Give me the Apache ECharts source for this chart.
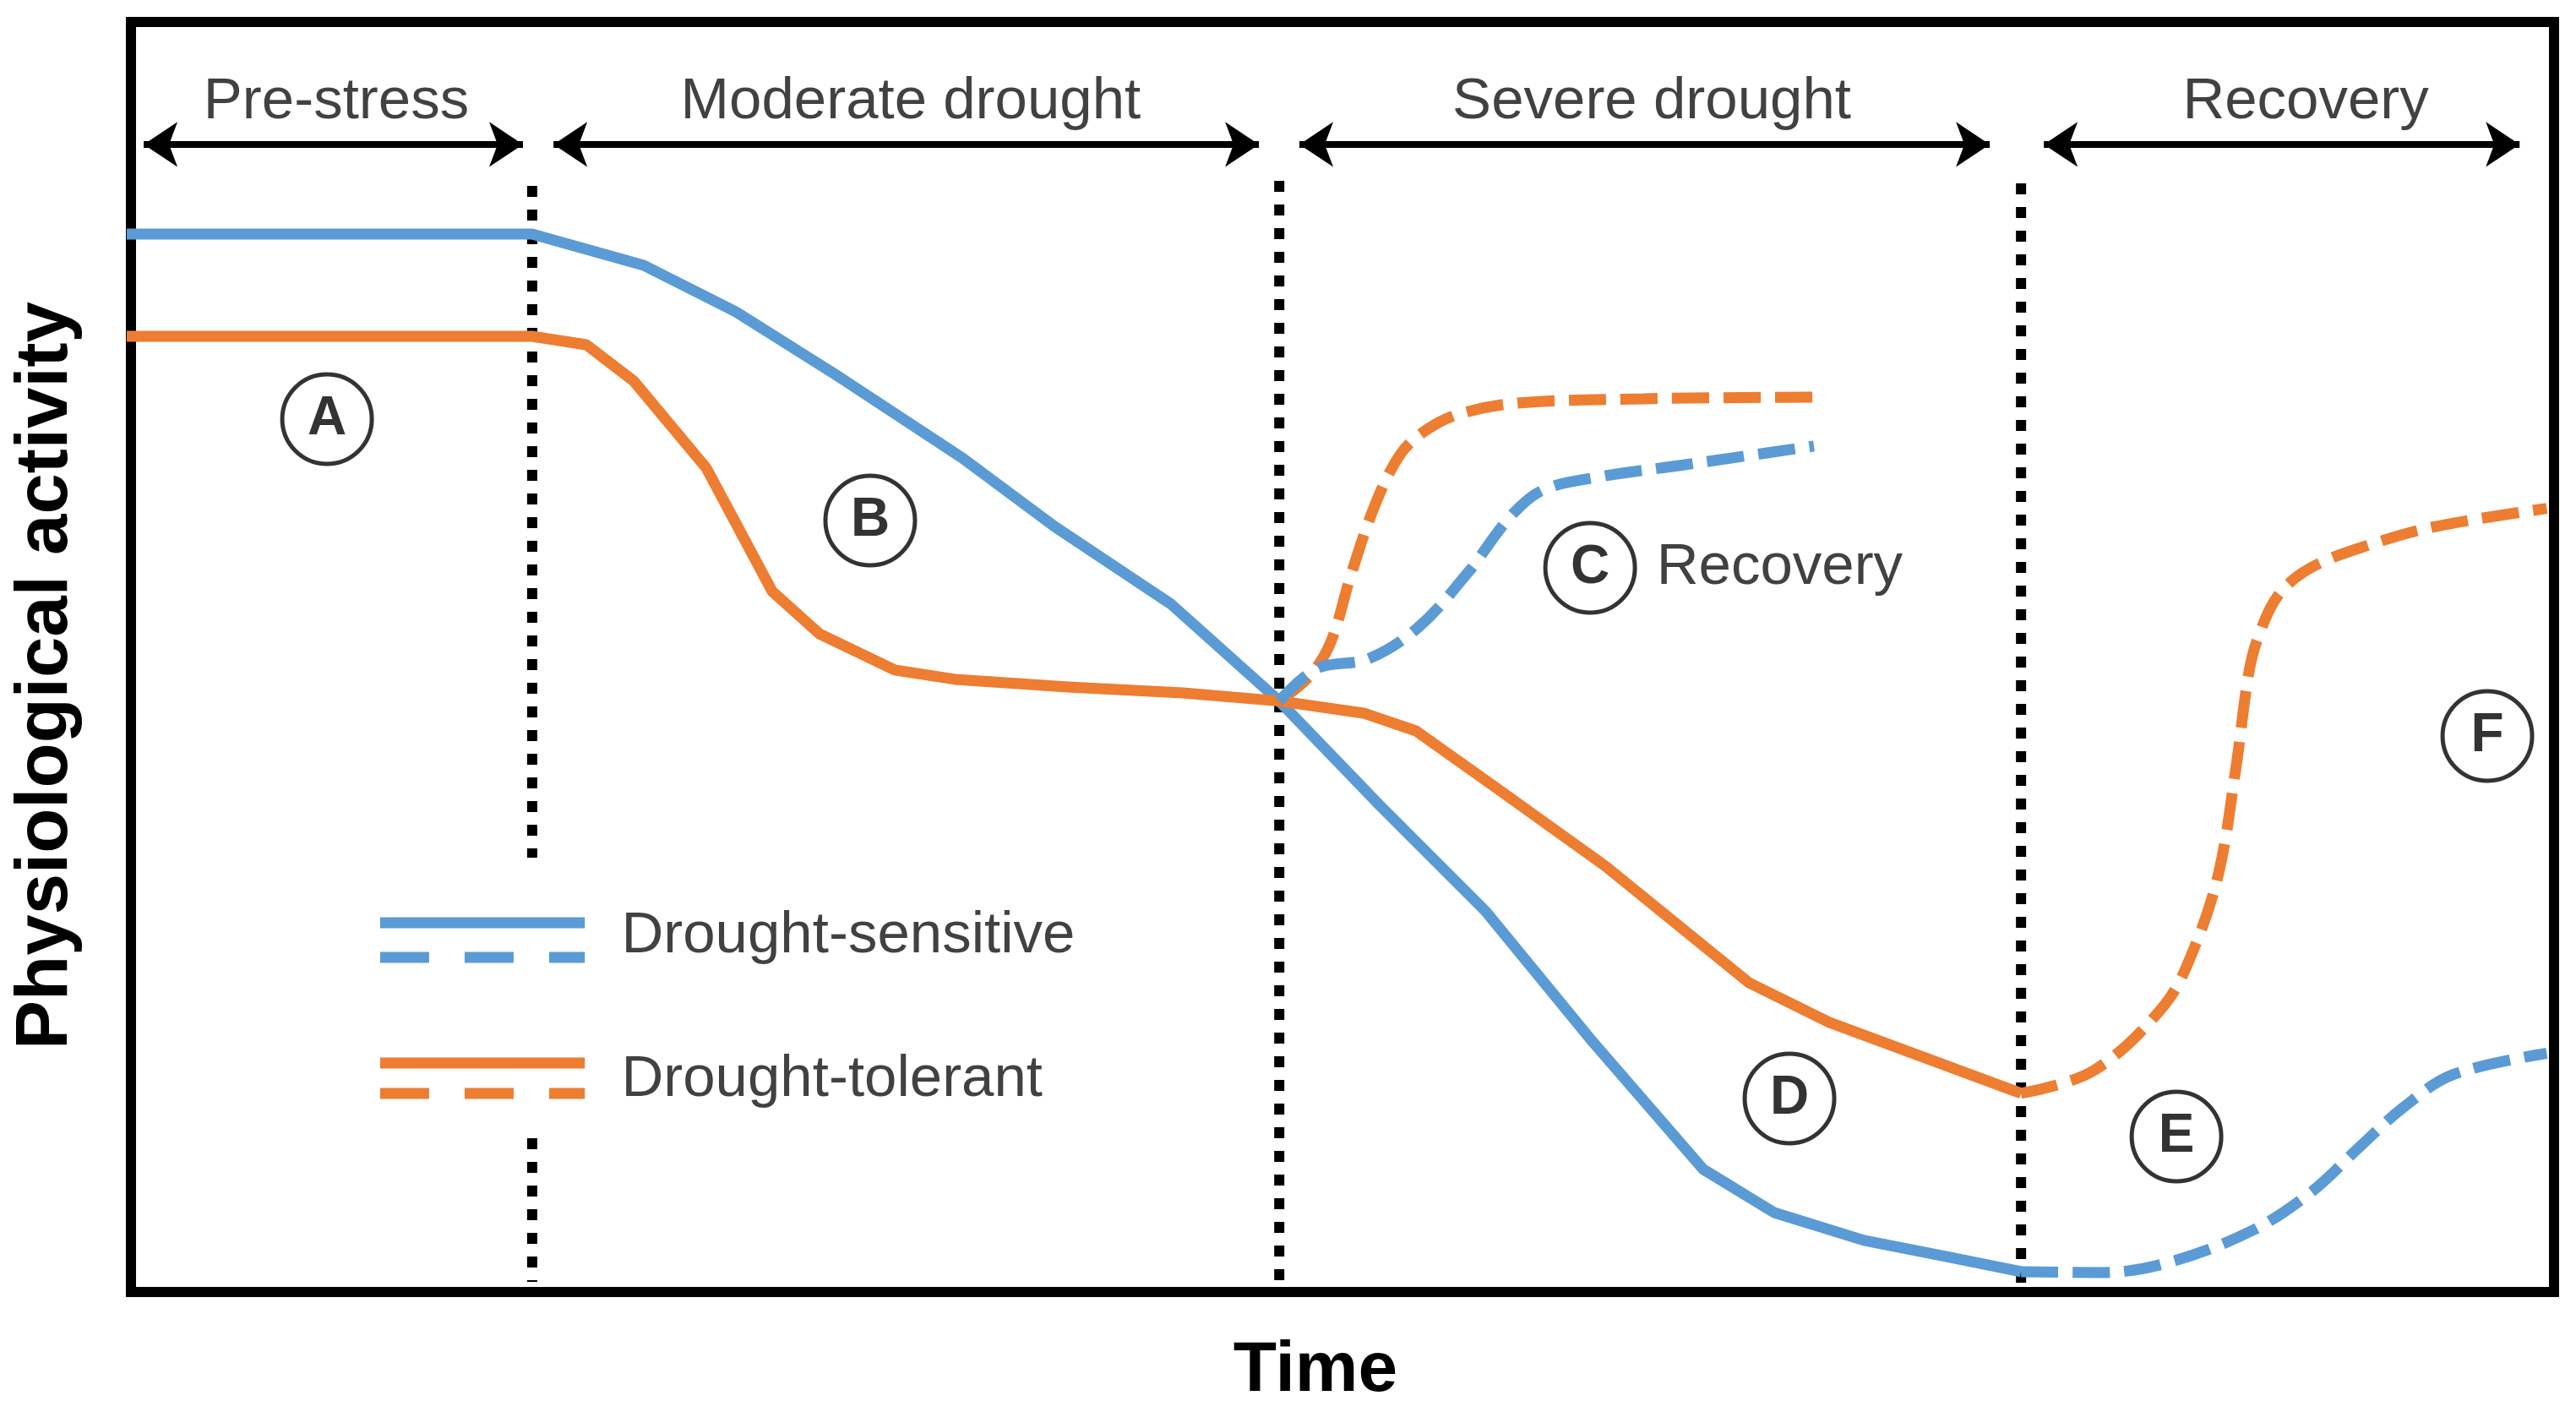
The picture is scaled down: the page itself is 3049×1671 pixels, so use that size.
<!DOCTYPE html>
<html><head><meta charset="utf-8">
<script src="https://cdn.jsdelivr.net/npm/echarts@6/dist/echarts.min.js"></script>
<style>html,body{margin:0;padding:0;background:#fff}#c{width:3049px;height:1671px}</style>
</head><body><div id="c"></div>
<script>
// ---- data (time units 0..100, activity units 0..100) ----
const sensitiveSolid = [[0,83.12],[16.72,83.12],[21.32,80.66],[25.12,77.01],[29.27,72.03],[34.46,65.51],[38.26,60.13],[43.07,54.02],[47.53,46.4],[51.67,38.21],[56.06,29.83],[60.49,19.53],[65.02,9.57],[67.94,6.18],[71.64,3.99],[75.05,2.72],[78.12,1.53]];
const tolerantSolid = [[0,75.08],[16.72,75.08],[18.95,74.42],[20.91,71.56],[23.90,64.72],[26.62,55.02],[28.57,51.69],[31.67,48.84],[34.15,48.11],[38.82,47.51],[43.55,47.04],[47.53,46.4],[51.01,45.45],[53.17,44.05],[56.41,39.67],[60.98,33.42],[66.90,24.25],[70.21,21.13],[78.12,15.55]];
const tolerantRecoverC = [[47.53,46.4],[48.78,48.37],[49.65,51.03],[50.49,56.35],[51.50,61.93],[52.54,65.85],[53.59,67.71],[54.95,68.97],[57.35,69.83],[62.54,70.17],[69.58,70.30]];
const sensitiveRecoverC = [[47.53,46.4],[49.09,48.97],[51.18,49.70],[53.24,52.16],[55.30,56.48],[57.04,60.86],[58.40,62.99],[60.80,64.05],[64.25,64.98],[69.58,66.45]];
const tolerantRecoverF = [[78.12,15.55],[81.11,17.34],[84.04,22.52],[85.26,26.98],[86.27,32.89],[86.97,41.00],[87.49,48.37],[87.84,51.10],[88.71,54.68],[90.07,56.88],[92.47,58.67],[95.23,60.13],[99.8,61.55]];
const sensitiveRecoverF = [[78.12,1.53],[81.46,1.46],[84.22,2.26],[87.67,4.78],[90.07,7.77],[92.13,11.43],[93.87,14.42],[95.92,17.01],[99.8,18.70]];

const phaseNames = ['Pre-stress','Moderate drought','Severe drought','Recovery'];
const phaseCenters = [8.64, 32.33, 62.89, 89.86];
const phaseTextY = 93.49;
const phaseArrows = [[0.70,16.34],[17.60,46.69],[48.36,76.83],[79.06,98.68]];
const phaseArrowY = 90.17;

const boundaries = [[16.72,[[86.91,34.09],[12.03,0.73]]],[47.53,[[87.31,0]]],[78.12,[[87.11,0]]]];

const letters = ['A','B','C','D','E','F'];
const letterPos = [[8.26,68.57],[30.66,60.60],[60.35,56.88],[68.57,15.15],[84.53,12.16],[97.35,43.65]];
const recoveryNote = ['Recovery', 63.07, 56.88];

const legendNames = ['Drought-sensitive','Drought-tolerant'];
const legendX = [10.45, 18.89];
const legendSolidY = [28.97, 17.94];
const legendDashY = [26.25, 15.55];
const legendTextX = 20.38;
const legendTextY = [27.91, 16.61];

const xAxisName = 'Time';
const yAxisName = 'Physiological activity';

// ---- styles ----
const BLUE = '#5B9BD5', ORANGE = '#ED7D31';
const FONT = '"Liberation Sans", Arial, Helvetica, sans-serif';
const LW = 13;
const FS = 69;

const series = [];
// boundaries
boundaries.forEach(([x, segs]) => {
  segs.forEach(([y1, y2]) => {
    series.push({type:'line', data:[[x,y1],[x,y2]], symbol:'none', silent:true, z:1,
      lineStyle:{color:'#000', width:12, type:[13,15], cap:'butt'}});
  });
});
series.push({type:'line', data:sensitiveSolid, symbol:'none', z:3, lineStyle:{color:BLUE, width:LW, join:'round'}});
series.push({type:'line', data:tolerantSolid, symbol:'none', z:4, lineStyle:{color:ORANGE, width:LW, join:'round'}});
const dashed = {type:[44,17], cap:'butt', width:LW};
series.push({type:'line', data:tolerantRecoverC, symbol:'none', smooth:0.35, z:4, lineStyle:Object.assign({color:ORANGE}, dashed)});
series.push({type:'line', data:sensitiveRecoverC, symbol:'none', smooth:0.35, z:5, lineStyle:Object.assign({color:BLUE}, dashed)});
series.push({type:'line', data:tolerantRecoverF, symbol:'none', smooth:0.35, z:4, lineStyle:Object.assign({color:ORANGE}, dashed)});
series.push({type:'line', data:sensitiveRecoverF, symbol:'none', smooth:0.35, z:5, lineStyle:Object.assign({color:BLUE}, dashed)});

// legend samples
const legColors = [BLUE, ORANGE];
legendNames.forEach((n, i) => {
  series.push({type:'line', data:[[legendX[0],legendSolidY[i]],[legendX[1],legendSolidY[i]]], symbol:'none', silent:true,
    lineStyle:{color:legColors[i], width:LW, cap:'butt'}});
  series.push({type:'line', data:[[legendX[0],legendDashY[i]],[legendX[1],legendDashY[i]]], symbol:'none', silent:true,
    lineStyle:{color:legColors[i], width:LW, type:[58,42], cap:'butt'}});
});

// phase labels and arrows
series.push({type:'scatter', symbolSize:1, itemStyle:{color:'rgba(0,0,0,0)'}, silent:true, z:6,
  data: phaseNames.map((n,i)=>[phaseCenters[i], phaseTextY, n]),
  label:{show:true, position:'inside', formatter:p=>p.value[2], color:'#111', fontFamily:FONT, fontSize:FS},
  markLine:{silent:true, symbol:['arrow','arrow'], symbolSize:[40,40], label:{show:false},
    lineStyle:{color:'#000', width:8, type:'solid'},
    data: phaseArrows.map(([a,b])=>[{coord:[a, phaseArrowY]},{coord:[b, phaseArrowY]}])}
});
// legend texts + recovery note
series.push({type:'scatter', symbolSize:1, itemStyle:{color:'rgba(0,0,0,0)'}, silent:true, z:6,
  data: legendNames.map((n,i)=>[legendTextX, legendTextY[i], n]).concat([[recoveryNote[1], recoveryNote[2], recoveryNote[0]]]),
  label:{show:true, position:'right', distance:0, formatter:p=>p.value[2], color:'#111', fontFamily:FONT, fontSize:FS}
});
// circled letters
series.push({type:'scatter', symbol:'circle', symbolSize:106, silent:true, z:7,
  itemStyle:{color:'#fff', borderColor:'#000', borderWidth:5},
  data: letters.map((l,i)=>[letterPos[i][0], letterPos[i][1], l]),
  label:{show:true, position:'inside', formatter:p=>p.value[2], color:'#000', fontFamily:FONT, fontWeight:'bold', fontSize:64}
});

const chart = echarts.init(document.getElementById('c'), null, {renderer:'canvas'});
chart.setOption({
  animation:false,
  backgroundColor:'#fff',
  grid:{left:155, right:26, top:26, bottom:142, show:true, borderColor:'#000', borderWidth:12, backgroundColor:'transparent'},
  xAxis:{type:'value', min:0.174, max:100.10, axisLine:{show:false}, axisTick:{show:false}, axisLabel:{show:false}, splitLine:{show:false},
    name:xAxisName, nameLocation:'middle', nameGap:52, nameTextStyle:{fontFamily:FONT, fontWeight:'bold', fontSize:84, color:'#000', padding:[0,64,0,0]}},
  yAxis:{type:'value', min:-0.07, max:99.8, axisLine:{show:false}, axisTick:{show:false}, axisLabel:{show:false}, splitLine:{show:false},
    name:yAxisName, nameLocation:'middle', nameGap:56, nameTextStyle:{fontFamily:FONT, fontWeight:'bold', fontSize:87, color:'#000', padding:[0,44,0,0]}},
  series: series
});
</script></body></html>
